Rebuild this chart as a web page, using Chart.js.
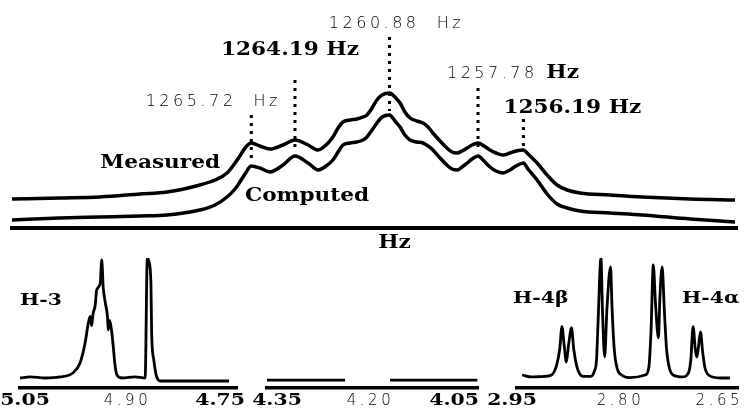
<!DOCTYPE html>
<html>
<head>
<meta charset="utf-8">
<script src="https://cdn.jsdelivr.net/npm/chart.js@4.4.1/dist/chart.umd.min.js"></script>
<style>
  html, body { margin: 0; padding: 0; background: #fff; }
  #wrap { position: relative; width: 749px; height: 410px; overflow: hidden; background: #fff; }
  #wrap canvas { position: absolute; left: 0; }
</style>
</head>
<body>
<div id="wrap">
  <canvas id="multiplet" width="749" height="260" style="top:0"></canvas>
  <canvas id="panelH3" width="749" height="160" style="top:250px"></canvas>
  <canvas id="panelMid" width="749" height="160" style="top:250px"></canvas>
  <canvas id="panelH4" width="749" height="160" style="top:250px"></canvas>
</div>
<script>
// ---- H-3 multiplet, frequency axis in Hz ----
const hzPoints = [
  1274.10, 1272.42, 1271.02, 1269.62, 1268.67, 1267.52, 1266.99, 1266.57, 1266.29, 1266.12,
  1265.94, 1265.72, 1265.42, 1265.07, 1264.61, 1264.19, 1263.73, 1263.38, 1263.10, 1262.86,
  1262.68, 1262.51, 1262.26, 1262.02, 1261.81, 1261.67, 1261.49, 1261.32, 1261.14, 1260.88,
  1260.69, 1260.51, 1260.34, 1260.16, 1259.92, 1259.71, 1259.53, 1259.36, 1259.11, 1258.87,
  1258.69, 1258.51, 1258.34, 1258.16, 1257.99, 1257.78, 1257.57, 1257.36, 1257.15, 1256.90,
  1256.66, 1256.45, 1256.19, 1256.03, 1255.71, 1255.36, 1255.01, 1254.66, 1254.21, 1253.16,
  1252.03, 1250.35, 1248.78
];
const measured = [
  0.29, 0.30, 0.31, 0.34, 0.36, 0.43, 0.48, 0.55, 0.65, 0.72,
  0.80, 0.85, 0.82, 0.79, 0.83, 0.88, 0.83, 0.78, 0.83, 0.91,
  1.00, 1.06, 1.08, 1.09, 1.11, 1.13, 1.20, 1.28, 1.33, 1.35,
  1.31, 1.25, 1.16, 1.10, 1.07, 1.05, 1.01, 0.95, 0.87, 0.80,
  0.76, 0.75, 0.77, 0.80, 0.83, 0.85, 0.82, 0.78, 0.75, 0.73,
  0.75, 0.77, 0.78, 0.74, 0.65, 0.53, 0.43, 0.38, 0.35, 0.33,
  0.31, 0.29, 0.28
];
const computed = [
  0.08, 0.10, 0.11, 0.12, 0.13, 0.18, 0.23, 0.31, 0.39, 0.46,
  0.54, 0.62, 0.60, 0.56, 0.63, 0.72, 0.65, 0.58, 0.62, 0.68,
  0.76, 0.83, 0.85, 0.86, 0.88, 0.91, 0.98, 1.05, 1.11, 1.13,
  1.07, 1.01, 0.93, 0.88, 0.86, 0.85, 0.82, 0.78, 0.70, 0.63,
  0.59, 0.58, 0.61, 0.65, 0.69, 0.72, 0.67, 0.61, 0.57, 0.55,
  0.58, 0.62, 0.65, 0.59, 0.48, 0.34, 0.24, 0.20, 0.17, 0.15,
  0.13, 0.09, 0.06
];
// assigned line frequencies
const peakHz = [1265.72, 1264.19, 1260.88, 1257.78, 1256.19];

// ---- 1H spectrum strips, chemical shift in ppm ----
const h3Ppm = [5.050, 5.036, 5.015, 4.995, 4.977, 4.967, 4.960, 4.956, 4.953, 4.951,
               4.949, 4.946, 4.944, 4.939, 4.937, 4.935, 4.932, 4.929, 4.928, 4.926,
               4.923, 4.921, 4.919, 4.916, 4.909, 4.891, 4.877, 4.874, 4.872, 4.869,
               4.868, 4.865, 4.861, 4.856, 4.761];
const h3Int = [0.077, 0.085, 0.077, 0.085, 0.115, 0.192, 0.346, 0.485, 0.550, 0.480,
               0.570, 0.638, 0.754, 0.808, 0.985, 0.777, 0.654, 0.546, 0.446, 0.520,
               0.423, 0.315, 0.192, 0.100, 0.077, 0.085, 0.077, 1.000, 0.977, 0.808,
               0.423, 0.215, 0.085, 0.054, 0.054];

const midPpm = [4.350, 4.239, 4.207, 4.175, 4.051];
const midInt = [0.060, 0.060, null, 0.060, 0.060];

const h4Ppm = [2.943, 2.930, 2.919, 2.905, 2.900, 2.896, 2.892, 2.889, 2.886, 2.883,
               2.880, 2.876, 2.873, 2.869, 2.865, 2.860, 2.850, 2.845, 2.842, 2.840,
               2.836, 2.834, 2.831, 2.828, 2.823, 2.821, 2.818, 2.814, 2.808, 2.797,
               2.776, 2.771, 2.768, 2.765, 2.762, 2.758, 2.756, 2.753, 2.750, 2.747,
               2.743, 2.738, 2.725, 2.717, 2.714, 2.711, 2.708, 2.706, 2.704, 2.701,
               2.698, 2.695, 2.690, 2.674, 2.661];
const h4Int = [0.100, 0.085, 0.087, 0.095, 0.120, 0.180, 0.300, 0.472, 0.330, 0.200,
               0.330, 0.462, 0.300, 0.170, 0.110, 0.090, 0.090, 0.130, 0.220, 0.500,
               1.000, 0.600, 0.240, 0.600, 0.931, 0.620, 0.300, 0.150, 0.100, 0.080,
               0.100, 0.160, 0.450, 0.946, 0.650, 0.385, 0.700, 0.931, 0.600, 0.300,
               0.150, 0.100, 0.085, 0.120, 0.220, 0.472, 0.300, 0.238, 0.300, 0.431,
               0.280, 0.160, 0.100, 0.077, 0.077];

const ticksH3 = [5.05, 4.90, 4.75];
const ticksMid = [4.35, 4.20, 4.05];
const ticksH4 = [2.95, 2.80, 2.65];

// ---- text helpers ----
const SERIF = '"DejaVu Serif", "Liberation Serif", serif';
const SANS = '"DejaVu Sans", "Liberation Sans", sans-serif';
const BOLD_STRETCH = 1.2;

function applyFont(ctx, p) {
  if (p.s === 'bold') {
    ctx.font = 'bold ' + (p.size || 18) + 'px ' + SERIF;
    ctx.fillStyle = '#000';
    ctx.letterSpacing = '0px';
  } else {
    ctx.font = '200 ' + (p.size || 16) + 'px ' + SANS;
    ctx.fillStyle = '#000';
    ctx.letterSpacing = '3.5px';
  }
}
function partWidth(ctx, p) {
  ctx.save();
  applyFont(ctx, p);
  const w = ctx.measureText(p.t).width * (p.s === 'bold' ? BOLD_STRETCH : 1);
  ctx.restore();
  return w;
}
function drawParts(ctx, parts, x, y, align) {
  const widths = parts.map(p => partWidth(ctx, p));
  const total = widths.reduce((a, b) => a + b, 0);
  let cx = align === 'center' ? x - total / 2 : align === 'right' ? x - total : x;
  parts.forEach((p, i) => {
    ctx.save();
    applyFont(ctx, p);
    ctx.textAlign = 'left';
    ctx.textBaseline = 'alphabetic';
    if (p.s === 'bold') {
      ctx.translate(cx, y);
      ctx.scale(BOLD_STRETCH, 1);
      ctx.fillText(p.t, 0, 0);
    } else {
      ctx.fillText(p.t, cx, y);
    }
    ctx.restore();
    cx += widths[i];
  });
}

// ---- multiplet annotations: dotted markers, line labels, trace names ----
const multipletText = {
  id: 'multipletText',
  afterDatasetsDraw(chart, args, opts) {
    const { ctx, scales: { x }, chartArea } = chart;
    opts.markers.forEach((m, i) => {
      const hz = peakHz[i];
      const px = x.getPixelForValue(hz);
      const meta = chart.getDatasetMeta(m.endOn === 'measured' ? 0 : 1);
      const idx = hzPoints.indexOf(hz);
      const yEnd = meta.data[idx].y - 4;
      const yTop = m.baseline + m.gap;
      ctx.save();
      ctx.strokeStyle = '#000';
      ctx.lineWidth = 3;
      ctx.setLineDash([3, 5]);
      ctx.beginPath();
      ctx.moveTo(px, yTop);
      ctx.lineTo(px, yEnd);
      ctx.stroke();
      ctx.restore();
      const num = hz.toFixed(2);
      let parts;
      if (m.kind === 'light') parts = [{ t: num + '  Hz', s: 'light' }];
      else if (m.kind === 'bold') parts = [{ t: num + ' Hz', s: 'bold' }];
      else parts = [{ t: num + ' ', s: 'light' }, { t: 'Hz', s: 'bold' }];
      drawParts(ctx, parts, px + m.dx, m.baseline, m.align);
    });
    opts.names.forEach(n => {
      drawParts(ctx, [{ t: chart.data.datasets[n.ds].label, s: 'bold' }], n.x, n.y, n.align);
    });
    const xc = (chartArea.left + chartArea.right) / 2 + 20;
    drawParts(ctx, [{ t: 'Hz', s: 'bold' }], xc, chartArea.bottom + 20, 'center');
  }
};

new Chart(document.getElementById('multiplet'), {
  type: 'line',
  data: {
    datasets: [
      { label: 'Measured', data: hzPoints.map((h, i) => ({ x: h, y: measured[i] })) },
      { label: 'Computed', data: hzPoints.map((h, i) => ({ x: h, y: computed[i] })) }
    ]
  },
  options: {
    responsive: false,
    animation: false,
    devicePixelRatio: 1,
    events: [],
    layout: { padding: { left: 12, right: 12, top: 28, bottom: 32 } },
    elements: {
      line: { borderColor: '#000', borderWidth: 3.5, cubicInterpolationMode: 'monotone', fill: false },
      point: { radius: 0 }
    },
    plugins: {
      legend: { display: false },
      tooltip: { enabled: false },
      multipletText: {
        markers: [
          { kind: 'light', dx: -38, align: 'center', baseline: 106, gap: 9, endOn: 'computed' },
          { kind: 'bold', dx: -5, align: 'center', baseline: 55, gap: 25, endOn: 'computed' },
          { kind: 'light', dx: 7, align: 'center', baseline: 28, gap: 9, endOn: 'computed' },
          { kind: 'mixed', dx: -31, align: 'left', baseline: 78, gap: 10, endOn: 'computed' },
          { kind: 'bold', dx: -20, align: 'left', baseline: 113, gap: 6, endOn: 'measured' }
        ],
        names: [
          { ds: 0, x: 220, y: 168, align: 'right' },
          { ds: 1, x: 245, y: 201, align: 'left' }
        ]
      }
    },
    scales: {
      x: {
        type: 'linear', reverse: true, min: 1248.71, max: 1274.10,
        grid: { display: false, drawTicks: false },
        border: { display: true, color: '#000', width: 4 },
        ticks: { display: false }
      },
      y: { min: 0, max: 2, display: false }
    }
  },
  plugins: [multipletText]
});

// ---- spectrum strips ----
const stripText = {
  id: 'stripText',
  afterDraw(chart, args, opts) {
    const { ctx, scales: { x } } = chart;
    opts.ticks.forEach((v, i) => {
      const st = opts.tickStyles[i];
      const px = x.getPixelForValue(v) + (st.dx || 0);
      drawParts(ctx, [{ t: v.toFixed(2), s: st.s, size: st.s === 'bold' ? 17 : 15 }], px, opts.tickBaseline, st.align);
    });
    (opts.captions || []).forEach(c => {
      drawParts(ctx, [{ t: c.t, s: 'bold', size: 17 }], c.x, c.y, 'left');
    });
  }
};

function strip(id, ppm, inten, range, padL, padR, ticks, tickStyles, captions) {
  new Chart(document.getElementById(id), {
    type: 'line',
    data: { datasets: [{ label: id, data: ppm.map((p, i) => ({ x: p, y: inten[i] })) }] },
    options: {
      responsive: false,
      animation: false,
      devicePixelRatio: 1,
      events: [],
      layout: { padding: { left: padL, right: padR, top: 8, bottom: 22 } },
      elements: {
        line: { borderColor: '#000', borderWidth: 2.8, cubicInterpolationMode: 'monotone', fill: false },
        point: { radius: 0 }
      },
      spanGaps: false,
      plugins: {
        legend: { display: false },
        tooltip: { enabled: false },
        stripText: { ticks, tickStyles, tickBaseline: 155, captions }
      },
      scales: {
        x: {
          type: 'linear', reverse: true, min: range[1], max: range[0],
          grid: { display: false, drawTicks: false },
          border: { display: true, color: '#000', width: 3.5 },
          ticks: { display: false }
        },
        y: { min: 0, max: 1, display: false }
      }
    },
    plugins: [stripText]
  });
}

strip('panelH3', h3Ppm, h3Int, [5.05, 4.75], 20, 512, ticksH3,
  [{ s: 'bold', align: 'center', dx: 5 }, { s: 'light', align: 'center', dx: -1 }, { s: 'bold', align: 'right', dx: 8 }],
  [{ t: 'H-3', x: 20, y: 55 }]);

strip('panelMid', midPpm, midInt, [4.35, 4.05], 267, 271, ticksMid,
  [{ s: 'bold', align: 'center', dx: 10 }, { s: 'light', align: 'center', dx: -2 }, { s: 'bold', align: 'right', dx: 1 }],
  []);

strip('panelH4', h4Ppm, h4Int, [2.95, 2.65], 517, 11, ticksH4,
  [{ s: 'bold', align: 'center', dx: -5 }, { s: 'light', align: 'center', dx: -7 }, { s: 'light', align: 'right', dx: 5 }],
  [{ t: 'H-4\u03b2', x: 513, y: 53 }, { t: 'H-4\u03b1', x: 682, y: 53 }]);
</script>
</body>
</html>
